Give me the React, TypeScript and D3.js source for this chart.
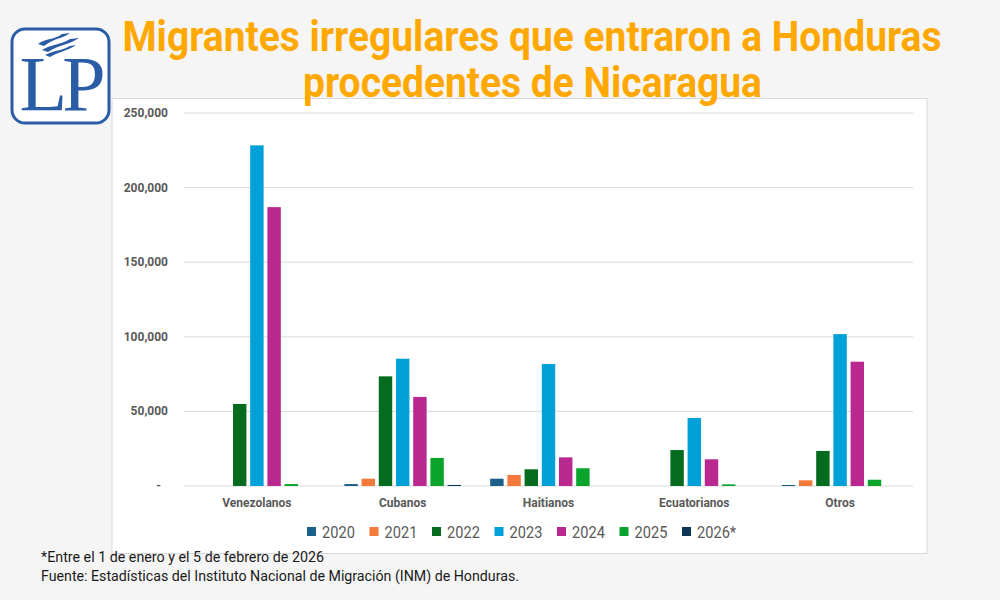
import React from 'react';
import * as d3 from 'd3';

// Migrantes irregulares por nacionalidad y año (INM Honduras)
const categories = ['Venezolanos', 'Cubanos', 'Haitianos', 'Ecuatorianos', 'Otros'];
const years = ['2020', '2021', '2022', '2023', '2024', '2025', '2026*'];

const v2020 = [0, 1300, 4900, 0, 700];
const v2021 = [0, 4900, 7400, 0, 3800];
const v2022 = [55000, 73500, 11200, 24100, 23500];
const v2023 = [228300, 85300, 81800, 45600, 101800];
const v2024 = [186900, 59700, 19200, 17900, 83300];
const v2025 = [1300, 18800, 11900, 1100, 4200];
const v2026 = [0, 700, 0, 0, 0];

const yTicks = [0, 50000, 100000, 150000, 200000, 250000];

const colors = ['#1b6089', '#f5793a', '#046b1f', '#00a0d9', '#b8288f', '#09a42b', '#0d3754'];

const series = [v2020, v2021, v2022, v2023, v2024, v2025, v2026];

const W = 1000;
const H = 600;
const plot = { left: 184, right: 913, top: 113, bottom: 486 };

const Logo = () => (
  <g>
    <rect x={12} y={29} width={97} height={94} rx={13} fill="#ffffff" stroke="#2b5ca6" strokeWidth={3} />
    {/* bandera ondeando sobre las iniciales */}
    <path d="M38,44 C46,38 54,40 62,34 L70,33 C62,39 54,38 44,46 Z" fill="#2b5ca6" />
    <path d="M42,50 C52,44 60,45 70,39 L79,38 C69,45 60,44 48,52 Z" fill="#2b5ca6" />
    <path d="M45,55 C54,50 62,51 70,46 L76,45 C68,51 60,51 50,57 Z" fill="#2b5ca6" />
    <text
      x={60}
      y={110}
      textAnchor="middle"
      fontFamily="'Liberation Serif', 'DejaVu Serif', serif"
      fontSize={78}
      letterSpacing={-5}
      fill="#2b5ca6"
    >
      LP
    </text>
  </g>
);

export default function App() {
  const y = d3.scaleLinear().domain([0, 250000]).range([plot.bottom, plot.top]);
  const x0 = d3.scaleBand<string>().domain(categories).range([plot.left, plot.right]).paddingInner(0.2).paddingOuter(0.1);
  const x1 = d3.scaleBand<string>().domain(years).range([0, x0.bandwidth()]).paddingInner(0.22);
  const fmt = d3.format(',');

  const legendStep = 62.5;
  const legendX = 307;

  return (
    <div style={{ position: 'absolute', left: 0, top: 0 }}>
      <svg width={W} height={H} style={{ display: 'block', fontFamily: 'Roboto, sans-serif' }}>
        <rect width={W} height={H} fill="#f5f5f5" />
        <rect x={112} y={98.5} width={815} height={455} fill="#ffffff" stroke="#d9d9d9" strokeWidth={1} />

        <Logo />

        <text x={122.5} y={51} fontSize={43} fontWeight={700} fill="#ffa800" textLength={819} lengthAdjust="spacingAndGlyphs">
          Migrantes irregulares que entraron a Honduras
        </text>
        <text x={303} y={97} fontSize={43} fontWeight={700} fill="#ffa800" textLength={459} lengthAdjust="spacingAndGlyphs">
          procedentes de Nicaragua
        </text>

        {yTicks.map((t) => (
          <g key={t}>
            <line x1={plot.left} x2={plot.right} y1={y(t)} y2={y(t)} stroke="#d9d9d9" strokeWidth={1} />
            <text x={t === 0 ? 161 : 168} y={y(t) + 4} textAnchor="end" fontSize={12} fontWeight={700} fill="#595959">
              {t === 0 ? '-' : fmt(t)}
            </text>
          </g>
        ))}

        {categories.map((c, ci) => (
          <g key={c} transform={`translate(${x0(c)},0)`}>
            {series.map((s, si) =>
              s[ci] > 0 ? (
                <rect
                  key={years[si]}
                  x={x1(years[si])}
                  y={y(s[ci])}
                  width={x1.bandwidth()}
                  height={y(0) - y(s[ci])}
                  fill={colors[si]}
                />
              ) : null
            )}
            <text x={x0.bandwidth() / 2} y={507} textAnchor="middle" fontSize={12} fontWeight={700} fill="#595959">
              {c}
            </text>
          </g>
        ))}

        {years.map((yr, i) => (
          <g key={yr} transform={`translate(${legendX + i * legendStep},0)`}>
            <rect x={0} y={527} width={9} height={9} fill={colors[i]} />
            <text transform="translate(15,538) scale(0.86,1)" fontSize={17} fill="#595959">
              {yr}
            </text>
          </g>
        ))}

        <text x={41} y={562} fontSize={14} fill="#1a1a1a" textLength={283} lengthAdjust="spacingAndGlyphs">
          *Entre el 1 de enero y el 5 de febrero de 2026
        </text>
        <text x={41} y={581} fontSize={14} fill="#1a1a1a" textLength={478} lengthAdjust="spacingAndGlyphs">
          Fuente: Estadísticas del Instituto Nacional de Migración (INM) de Honduras.
        </text>
      </svg>
    </div>
  );
}
